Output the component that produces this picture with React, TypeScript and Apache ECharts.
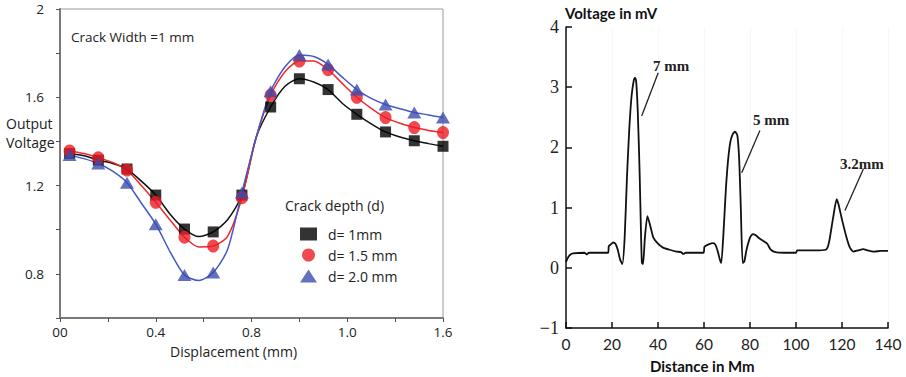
import { useEffect, useRef } from 'react';
import * as echarts from 'echarts';

// ---- Left panel: output voltage vs displacement ----
const dispX = [0.04, 0.10, 0.16, 0.22, 0.28, 0.34, 0.40, 0.46, 0.52, 0.58, 0.64, 0.70, 0.76, 0.82, 0.88, 0.94, 1.00, 1.06, 1.12, 1.18, 1.24, 1.30, 1.36, 1.42, 1.48, 1.54, 1.60];
const d1Volt = [1.345, 1.335, 1.315, 1.30, 1.275, 1.22, 1.157, 1.07, 1.003, 0.969, 0.99, 1.045, 1.157, 1.42, 1.556, 1.65, 1.684, 1.669, 1.635, 1.572, 1.523, 1.48, 1.443, 1.42, 1.403, 1.39, 1.378];
const d15Volt = [1.357, 1.345, 1.326, 1.305, 1.27, 1.20, 1.124, 1.044, 0.966, 0.922, 0.926, 0.97, 1.145, 1.42, 1.61, 1.716, 1.764, 1.764, 1.725, 1.662, 1.60, 1.55, 1.508, 1.482, 1.463, 1.45, 1.44];
const d2Volt = [1.338, 1.322, 1.30, 1.265, 1.213, 1.12, 1.025, 0.90, 0.795, 0.77, 0.806, 0.91, 1.169, 1.42, 1.627, 1.738, 1.792, 1.785, 1.749, 1.69, 1.635, 1.595, 1.567, 1.548, 1.531, 1.52, 1.508];
const seriesNames = ['d= 1mm', 'd= 1.5 mm', 'd= 2.0 mm'];
const dispTickLabels: Record<number, string> = { 0: '00', 4: '0.4', 8: '0.8', 12: '1.0', 16: '1.6' };

// ---- Right panel: voltage vs distance ----
const distX = [0, 1, 2, 3, 8, 9, 10, 15, 18.3, 18.6, 19.5, 20.5, 21.5, 22.5, 23.5, 24.5, 25.5, 26.5, 27.5, 28.5, 29.5, 30, 30.5, 31.2, 32, 32.6, 33, 33.5, 34.3, 35.4, 36.5, 38, 40, 42, 45, 48, 50, 51, 52, 56, 59.8, 60.2, 62, 64, 65, 66, 67, 67.5, 68.5, 69.5, 70.5, 71.5, 72.5, 73.5, 74.5, 75.3, 76, 76.8, 77.5, 78.5, 80, 81.2, 82.5, 84, 86, 87.5, 89, 91, 95, 100, 100.5, 105, 110, 113.3, 114.5, 116, 117.7, 118.5, 120, 122, 123.5, 125, 127, 129.3, 131, 134, 137, 140];
const voltMv = [0.1, 0.18, 0.22, 0.24, 0.25, 0.22, 0.25, 0.25, 0.25, 0.36, 0.39, 0.42, 0.4, 0.3, 0.14, 0.06, 0.5, 1.5, 2.3, 2.85, 3.12, 3.16, 3.1, 2.6, 1.6, 0.6, 0.08, 0.06, 0.5, 0.86, 0.72, 0.5, 0.4, 0.34, 0.3, 0.27, 0.26, 0.23, 0.25, 0.25, 0.25, 0.35, 0.39, 0.41, 0.38, 0.27, 0.12, 0.08, 0.6, 1.3, 1.8, 2.1, 2.22, 2.26, 2.2, 1.8, 1.0, 0.08, 0.1, 0.3, 0.5, 0.56, 0.54, 0.49, 0.44, 0.4, 0.3, 0.26, 0.25, 0.25, 0.29, 0.29, 0.29, 0.31, 0.45, 0.8, 1.14, 1.05, 0.8, 0.5, 0.33, 0.27, 0.29, 0.31, 0.29, 0.27, 0.28, 0.28];
const annLabels = ['7 mm', '5 mm', '3.2mm'];
const annTextAt = [[37.8, 3.36], [81.3, 2.46], [119.1, 1.73]];
const annLineFrom = [[40.1, 3.24], [84.3, 2.28], [129.3, 1.64]];
const annLineTo = [[32.9, 2.52], [76.4, 1.58], [121.3, 0.95]];

const SANS = 'Open Sans';
const colors = ['#000000', '#ec1c24', '#3b4cae'];
const lineColors = ['#111111', '#ee2a2a', '#4658c8'];
const symbols = ['rect', 'circle', 'triangle'];
const symbolSizes: any[] = [11, [12, 13], [14, 12]];

export default function App() {
  const ref = useRef<HTMLDivElement>(null);
  useEffect(() => {
    const chart = echarts.init(ref.current!, null, { renderer: 'svg' });
    const curves = [d1Volt, d15Volt, d2Volt];
    const lineSeries = curves.map((ys, i) => ({
      type: 'line',
      name: 'curve' + i,
      xAxisIndex: 0,
      yAxisIndex: 0,
      data: dispX.map((x, k) => [x, ys[k]]),
      showSymbol: false,
      smooth: 0.25,
      lineStyle: { color: lineColors[i], width: 1.5 },
      z: 2,
    }));
    const markerSeries = curves.map((ys, i) => ({
      type: 'scatter',
      name: seriesNames[i],
      xAxisIndex: 0,
      yAxisIndex: 0,
      data: dispX.map((x, k) => [x, ys[k]]).filter((_, k) => k % 2 === 0),
      symbol: symbols[i],
      symbolSize: symbolSizes[i],
      itemStyle: { color: colors[i] },
      z: 3,
    }));
    chart.setOption({
      animation: false,
      backgroundColor: '#ffffff',
      grid: [
        { left: 60, top: 9, width: 383, height: 309, show: true, borderColor: '#9a9a9a', borderWidth: 1, backgroundColor: 'transparent' },
        { left: 566, top: 27, width: 322, height: 301 },
      ],
      legend: {
        data: seriesNames.map((n, i) => ({ name: n, icon: symbols[i] })),
        orient: 'vertical',
        left: 295,
        top: 222,
        itemWidth: 17,
        itemHeight: 13,
        itemGap: 7,
        selectedMode: false,
        textStyle: { fontSize: 14, fontFamily: SANS, color: '#222', padding: [0, 0, 0, 6] },
      },
      xAxis: [
        {
          type: 'value', gridIndex: 0, min: 0, max: 1.6, interval: 0.2,
          axisLine: { show: true, onZero: false, lineStyle: { color: '#7a7a7a', width: 2 } },
          axisTick: { show: true, length: 4, lineStyle: { color: '#555' } },
          axisLabel: {
            margin: 7, fontSize: 13.5, fontFamily: SANS, color: '#222',
            formatter: (v: number) => dispTickLabels[Math.round(v * 10)] ?? '',
          },
          splitLine: { show: false },
        },
        {
          type: 'value', gridIndex: 1, min: 0, max: 140, interval: 20,
          axisLine: { show: true, onZero: false, lineStyle: { color: '#111', width: 1.5 } },
          axisTick: { show: true, inside: true, length: 6, lineStyle: { color: '#111', width: 1.5 } },
          axisLabel: { margin: 8, fontSize: 15.5, fontFamily: 'Lato', color: '#222' },
          splitLine: { show: true, lineStyle: { color: '#f7f7f7', width: 1 } },
        },
      ],
      yAxis: [
        {
          type: 'value', gridIndex: 0, min: 0.6, max: 2.0, interval: 0.2,
          axisLine: { show: true, onZero: false, lineStyle: { color: '#7a7a7a', width: 2 } },
          axisTick: { show: true, length: 4, lineStyle: { color: '#555' } },
          axisLabel: {
            margin: 16, fontSize: 13.5, fontFamily: SANS, color: '#222',
            formatter: (v: number) => {
              const t = Math.round(v * 10);
              if (t % 4 !== 0) return '';
              return t === 20 ? '2' : (t / 10).toFixed(1);
            },
          },
          splitLine: { show: false },
        },
        {
          type: 'value', gridIndex: 1, min: -1, max: 4, interval: 1,
          axisLine: { show: true, onZero: false, lineStyle: { color: '#111', width: 1.5 } },
          axisTick: { show: true, inside: true, length: 6, lineStyle: { color: '#111', width: 1.5 } },
          axisLabel: {
            margin: 7, fontSize: 18, fontFamily: 'Liberation Serif', color: '#222',
            formatter: (v: number) => (v < 0 ? '\u2212' + Math.abs(v) : String(v)),
          },
          splitLine: { show: false },
        },
      ],
      series: [
        ...lineSeries,
        ...markerSeries,
        {
          type: 'line',
          name: 'voltage',
          xAxisIndex: 1,
          yAxisIndex: 1,
          data: distX.map((x, k) => [x, voltMv[k]]),
          showSymbol: false,
          smooth: 0.2,
          lineStyle: { color: '#111', width: 1.8 },
        },
      ],
    });

    const px = (p: number[]) => chart.convertToPixel({ gridIndex: 1 }, p) as number[];
    const graphics: any[] = [
      { type: 'text', left: 71, top: 30, style: { text: 'Crack Width =1 mm', font: `13.5px "${SANS}"`, fill: '#222' } },
      { type: 'text', left: 6, top: 116, style: { text: 'Output', font: `14px "${SANS}"`, fill: '#222' } },
      { type: 'text', left: 6, top: 135, style: { text: 'Voltage', font: `14px "${SANS}"`, fill: '#222' } },
      { type: 'text', left: 285, top: 198, style: { text: 'Crack depth (d)', font: `14px "${SANS}"`, fill: '#222' } },
      { type: 'text', left: 170, top: 344, style: { text: 'Displacement (mm)', font: `14px "${SANS}"`, fill: '#222' } },
      { type: 'text', left: 565, top: 5, style: { text: 'Voltage in mV', font: 'bold 15px Lato', fill: '#111' } },
      { type: 'text', left: 650, top: 358, style: { text: 'Distance in Mm', font: 'bold 15px Lato', fill: '#111' } },
    ];
    annLabels.forEach((lab, i) => {
      const t = px(annTextAt[i]);
      const a = px(annLineFrom[i]);
      const b = px(annLineTo[i]);
      graphics.push({
        type: 'text', x: t[0], y: t[1],
        style: { text: lab, font: 'bold 15px "Liberation Serif"', fill: '#222', verticalAlign: 'middle', align: 'left' },
      });
      graphics.push({
        type: 'line',
        shape: { x1: a[0], y1: a[1], x2: b[0], y2: b[1] },
        style: { stroke: '#222', lineWidth: 1.3 },
      });
    });
    chart.setOption({ graphic: graphics });
    return () => chart.dispose();
  }, []);
  return (
    <div
      ref={ref}
      style={{ position: 'fixed', left: 0, top: 0, width: 906, height: 377, background: '#fff' }}
    />
  );
}
